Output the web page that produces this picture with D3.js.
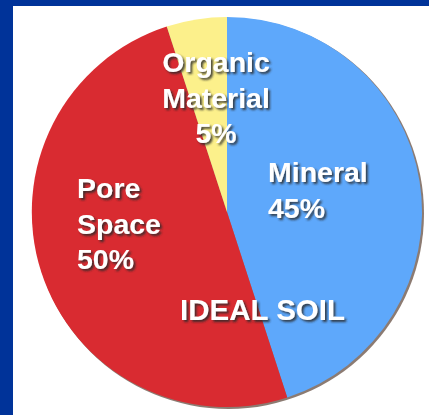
<!DOCTYPE html>
<html>
<head>
<meta charset="utf-8">
<script src="https://cdn.jsdelivr.net/npm/d3@7"></script>
<style>
  html, body { margin: 0; padding: 0; background: #ffffff; }
  svg { display: block; }
</style>
</head>
<body>
<script>
// Soil composition by volume
const categories = ["Mineral", "Pore Space", "Organic Material"];
const percents = [45, 50, 5];
const sliceColors = ["#5ea8fb", "#d92b31", "#fcf08b"];
const title = "IDEAL SOIL";

const W = 429, H = 415;
const cx = 227, cy = 212, R = 195;

const svg = d3.select("body").append("svg")
  .attr("width", W).attr("height", H);

// Frame: navy bands on top and left
svg.append("rect").attr("x", 0).attr("y", 0).attr("width", W).attr("height", H).attr("fill", "#ffffff");
svg.append("rect").attr("x", 0).attr("y", 0).attr("width", W).attr("height", 6).attr("fill", "#003399");
svg.append("rect").attr("x", 0).attr("y", 0).attr("width", 13).attr("height", H).attr("fill", "#003399");

const defs = svg.append("defs");
const shadow = defs.append("filter").attr("id", "txtShadow")
  .attr("x", "-20%").attr("y", "-20%").attr("width", "140%").attr("height", "160%");
shadow.append("feGaussianBlur").attr("in", "SourceAlpha").attr("stdDeviation", 1.1).attr("result", "b");
shadow.append("feOffset").attr("in", "b").attr("dx", 2).attr("dy", 2).attr("result", "o");
shadow.append("feFlood").attr("flood-color", "#2a2a2a").attr("flood-opacity", 0.85);
shadow.append("feComposite").attr("in2", "o").attr("operator", "in").attr("result", "s");
const m = shadow.append("feMerge");
m.append("feMergeNode").attr("in", "s");
m.append("feMergeNode").attr("in", "SourceGraphic");

const pie = d3.pie().sort(null).value(d => d)(percents);
const arc = d3.arc().innerRadius(0).outerRadius(R);

const g = svg.append("g").attr("transform", `translate(${cx},${cy})`);

// Soft rim shadow toward the lower right
g.append("circle").attr("cx", 1.5).attr("cy", 1.5).attr("r", R + 0.5).attr("fill", "#8c7b72");

g.selectAll("path.slice").data(pie).join("path")
  .attr("class", "slice")
  .attr("d", arc)
  .attr("fill", (d, i) => sliceColors[i]);

// Label anchors for each slice (name split across lines, then the percent)
const labelPos = [
  { x: 268, y: 182, anchor: "start" },
  { x: 77, y: 198, anchor: "start" },
  { x: 216, y: 72, anchor: "middle" }
];
const lineH = 35.5;

const txt = svg.append("g")
  .attr("font-family", "'Liberation Sans', Arial, sans-serif")
  .attr("font-weight", "bold")
  .attr("font-size", 28.5)
  .attr("fill", "#ffffff")
  .attr("filter", "url(#txtShadow)");

categories.forEach((name, i) => {
  const p = labelPos[i];
  const lines = name.split(" ").concat([percents[i] + "%"]);
  const t = txt.append("text").attr("text-anchor", p.anchor);
  lines.forEach((s, k) => {
    t.append("tspan").attr("x", p.x).attr("y", p.y + k * lineH).text(s);
  });
});

txt.append("text").attr("x", 180).attr("y", 320)
  .attr("font-size", 29.5).text(title);
</script>
</body>
</html>
